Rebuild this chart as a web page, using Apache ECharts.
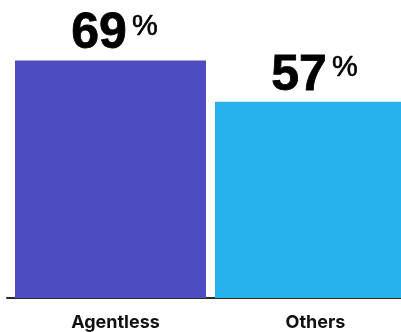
<!DOCTYPE html>
<html>
<head>
<meta charset="utf-8">
<script src="https://cdn.jsdelivr.net/npm/echarts@6/dist/echarts.min.js"></script>
<style>
  html, body { margin: 0; padding: 0; background: #ffffff; }
  #chart { width: 401px; height: 332px; }
</style>
</head>
<body>
<div id="chart"></div>
<script>
// Share of respondents per group
const categories = ['Agentless', 'Others'];
const values = [69, 57];
const barColors = ['#4e4cc1', '#28b2ec'];
const unitSuffix = '%';

const chart = echarts.init(document.getElementById('chart'), null, { renderer: 'canvas' });

const seriesData = values.map((v, i) => ({
  value: [i, v],
  itemStyle: { color: barColors[i] }
}));

chart.setOption({
  animation: false,
  grid: { left: 7, right: 0, top: 0, bottom: 31, containLabel: false },
  xAxis: {
    type: 'value',
    min: -0.5175,
    max: 1.4525,
    splitLine: { show: false },
    axisLine: { show: true, onZero: false, lineStyle: { color: '#2a2a2a', width: 2 } },
    axisTick: { show: false },
    axisLabel: {
      customValues: categories.map((c, i) => i),
      formatter: (v) => categories[Math.round(v)] || '',
      margin: 16,
      padding: [0, 0, 0, 10],
      color: '#111111',
      fontFamily: 'Inter',
      fontWeight: 700,
      fontSize: 18
    }
  },
  yAxis: {
    type: 'value',
    min: 0,
    max: 86.6,
    show: false,
    splitLine: { show: false }
  },
  series: [{
    type: 'bar',
    barWidth: 191,
    data: seriesData,
    label: {
      show: true,
      position: 'top',
      distance: 1,
      offset: [4, 0],
      formatter: (p) => '{v|' + p.value[1] + '}{p|' + unitSuffix + '}',
      rich: {
        v: {
          fontFamily: 'Liberation Sans',
          fontWeight: 'bold',
          fontSize: 50,
          lineHeight: 50,
          color: '#000000',
          textBorderColor: '#000000',
          textBorderWidth: 0.8
        },
        p: {
          fontFamily: 'Liberation Sans',
          fontWeight: 'normal',
          fontSize: 29,
          lineHeight: 50,
          verticalAlign: 'top',
          padding: [3, 0, 0, 5],
          color: '#000000',
          textBorderColor: '#000000',
          textBorderWidth: 0.6
        }
      }
    }
  }]
});
</script>
</body>
</html>
